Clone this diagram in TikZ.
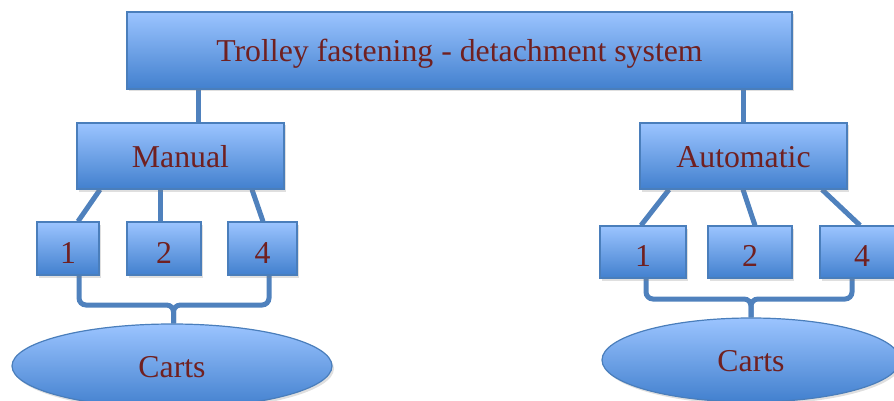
\documentclass[tikz,border=0pt]{standalone}
\usepackage{fontspec}
\setmainfont{Liberation Serif}
\usetikzlibrary{shapes.geometric,shadows}
\pgfdeclarelayer{background}
\pgfsetlayers{background,main}
\definecolor{boxtop}{RGB}{155,196,255}
\definecolor{boxbot}{RGB}{66,128,206}
\definecolor{boxline}{RGB}{74,126,187}
\definecolor{conn}{RGB}{79,129,189}
\definecolor{txt}{RGB}{112,32,32}
\tikzset{
  boxbase/.style={draw=boxline, line width=1.2pt, top color=boxtop, bottom color=boxbot,
    text=txt, font=\fontsize{31.8}{36}\selectfont, inner sep=0pt,
    text height=23pt, text depth=0pt,
    drop shadow={shadow xshift=2pt, shadow yshift=-2.5pt, opacity=0.25}},
  rbox/.style={boxbase, rectangle},
  nbox/.style={boxbase, rectangle, text height=29pt},
  ebox/.style={boxbase, ellipse, text height=22pt},
  link/.style={draw=conn, line width=5pt},
  brace/.style={draw=conn, line width=5pt, rounded corners=7pt}
}
\begin{document}
\begin{tikzpicture}[x=1pt,y=-1pt]
\useasboundingbox (0,0) rectangle (894,401);
\clip (0,0) rectangle (894,401);
% top
\node[rbox, minimum width=665pt, minimum height=77pt] (top) at (459.5,50.5) {Trolley fastening - detachment system};
% second level
\node[rbox, minimum width=207pt, minimum height=66pt] (manual) at (180.5,156) {Manual};
\node[rbox, minimum width=207pt, minimum height=66pt] (auto) at (743.5,156) {Automatic};
% manual children
\node[nbox, minimum width=62pt, minimum height=53pt] (m1) at (68,248.5) {1};
\node[nbox, minimum width=74pt, minimum height=53pt] (m2) at (164,248.5) {2};
\node[nbox, minimum width=69pt, minimum height=53pt] (m4) at (262.5,248.5) {4};
% automatic children
\node[nbox, minimum width=86pt, minimum height=52pt] (a1) at (643,252) {1};
\node[nbox, minimum width=84pt, minimum height=52pt] (a2) at (750,252) {2};
\node[nbox, minimum width=84pt, minimum height=52pt] (a4) at (862,252) {4};
% carts
\node[ebox, minimum width=320pt, minimum height=84pt] (mc) at (172,366) {Carts};
\node[ebox, minimum width=298pt, minimum height=84pt] (ac) at (751,360) {Carts};
\coordinate (mb) at (173.5,305);
\coordinate (ab) at (751,299);
\begin{pgfonlayer}{background}
\draw[link] ([xshift=-261.5pt]top.south) -- ([xshift=17.5pt]manual.north);
\draw[link] ([xshift=283.5pt]top.south) -- ([xshift=-0.5pt]auto.north);
\draw[link] ([xshift=-80.5pt]manual.south) -- ([xshift=10pt]m1.north);
\draw[link] ([xshift=-20.5pt]manual.south) -- ([xshift=-4pt]m2.north);
\draw[link] ([xshift=71.5pt]manual.south) -- ([xshift=0.5pt]m4.north);
\draw[link] ([xshift=-74.5pt]auto.south) -- ([xshift=-2pt]a1.north);
\draw[link] ([xshift=-0.5pt]auto.south) -- ([xshift=5pt]a2.north);
\draw[link] ([xshift=78.5pt]auto.south) -- ([xshift=-2pt]a4.north);
\draw[brace] ([xshift=11pt]m1.south) |- (mb) -- (mb |- mc.north);
\draw[brace] ([xshift=6.5pt]m4.south) |- (mb) -- (mb |- mc.north);
\draw[brace] ([xshift=3pt]a1.south) |- (ab) -- (ab |- ac.north);
\draw[brace] ([xshift=-10pt]a4.south) |- (ab) -- (ab |- ac.north);
\end{pgfonlayer}
\end{tikzpicture}
\end{document}
